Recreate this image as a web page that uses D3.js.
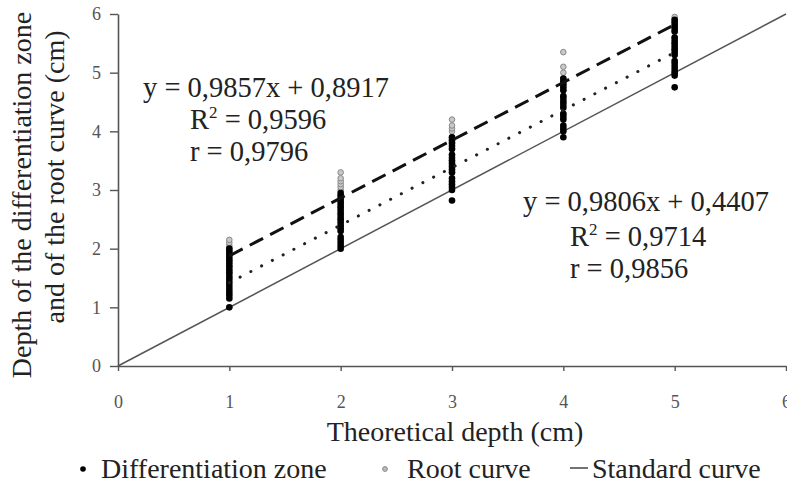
<!DOCTYPE html>
<html>
<head>
<meta charset="utf-8">
<script src="https://cdn.jsdelivr.net/npm/d3@7"></script>
<style>
  body { margin: 0; background: #fff; }
  text { font-family: "Liberation Serif", "DejaVu Serif", serif; }
</style>
</head>
<body>
<div id="chart"></div>
<script>
// dados
const theoretical = [1, 2, 3, 4, 5];

const diffZone = [
  [1.0, 1.15, 1.2, 1.25, 1.3, 1.35, 1.4, 1.45, 1.5, 1.55, 1.6, 1.65, 1.7, 1.75, 1.8, 1.85, 1.9, 1.95, 2.0],
  [2.0, 2.05, 2.1, 2.15, 2.2, 2.3, 2.35, 2.4, 2.45, 2.5, 2.55, 2.6, 2.65, 2.7, 2.75, 2.8, 2.85, 2.9, 2.95],
  [2.82, 3.0, 3.05, 3.1, 3.15, 3.2, 3.3, 3.35, 3.4, 3.45, 3.5, 3.55, 3.6, 3.7, 3.75, 3.8, 3.85, 3.9],
  [3.9, 4.0, 4.05, 4.1, 4.2, 4.25, 4.3, 4.4, 4.45, 4.5, 4.55, 4.6, 4.7, 4.75, 4.8, 4.85, 4.9],
  [4.75, 4.95, 5.0, 5.05, 5.1, 5.15, 5.2, 5.3, 5.35, 5.4, 5.45, 5.5, 5.55, 5.6, 5.7, 5.75, 5.8, 5.85, 5.9]
];

const rootCurve = [
  [1.5, 1.6, 1.7, 1.8, 1.9, 1.95, 2.0, 2.05, 2.1, 2.15],
  [2.3, 2.5, 2.6, 2.7, 2.8, 2.9, 3.0, 3.05, 3.1, 3.15, 3.2, 3.3],
  [3.3, 3.5, 3.6, 3.7, 3.8, 3.9, 4.0, 4.05, 4.1, 4.2],
  [4.3, 4.5, 4.6, 4.7, 4.8, 4.9, 5.0, 5.1, 5.35],
  [5.0, 5.2, 5.4, 5.5, 5.6, 5.7, 5.8, 5.85, 5.9, 5.95]
];

// regressões (inclinação, intercepto)
const rootFit = [0.9857, 0.8917];
const diffFit = [0.9806, 0.4407];
const standardFit = [1, 0];

const axisTicks = [0, 1, 2, 3, 4, 5, 6];

const rootText = ["y = 0,9857x + 0,8917", "0,9596", "r = 0,9796"];
const diffText = ["y = 0,9806x + 0,4407", "0,9714", "r = 0,9856"];

const legendItems = ["Differentiation zone", "Root curve", "Standard curve"];

// Configurações
let width = 787, height = 486;
let svg = d3.select('#chart').append('svg')
  .attr('width', width)
  .attr('height', height);

let x = d3.scaleLinear().domain([0, 6]).range([118, 786]);
let y = d3.scaleLinear().domain([0, 6]).range([366, 14]);

// Eixos
let axisY = svg.append('g')
  .attr('transform', `translate(${x(0)},0)`)
  .call(d3.axisLeft(y).tickValues(axisTicks).tickFormat(d3.format('d'))
    .tickSize(8).tickSizeOuter(0).tickPadding(9));

let axisX = svg.append('g')
  .attr('transform', `translate(0,${y(0)})`)
  .call(d3.axisBottom(x).tickValues(axisTicks).tickFormat(d3.format('d'))
    .tickSize(5).tickSizeOuter(0).tickPadding(24));

[axisX, axisY].forEach(g => {
  g.select('.domain').attr('stroke', '#555').attr('stroke-width', 1.6);
  g.selectAll('.tick line').attr('stroke', '#555').attr('stroke-width', 1.4);
  g.selectAll('.tick text').attr('fill', '#555')
    .style('font-size', '18px').style('font-family', '"Liberation Serif", serif');
});

// Linha padrão
let line = d3.line().x(d => x(d[0])).y(d => y(d[1]));
const fitPts = (fit, x0, x1) => [[x0, fit[0] * x0 + fit[1]], [x1, fit[0] * x1 + fit[1]]];

svg.append('path')
  .datum(fitPts(standardFit, 0, 6))
  .attr('d', line)
  .attr('fill', 'none')
  .attr('stroke', '#555')
  .attr('stroke-width', 1.5);

// Pontos da curva da raiz
rootCurve.forEach((vals, i) => {
  svg.append('g').selectAll('circle')
    .data(vals)
    .join('circle')
    .attr('cx', x(theoretical[i]))
    .attr('cy', d => y(d))
    .attr('r', 2.8)
    .attr('fill', '#c8c8c8')
    .attr('stroke', '#888')
    .attr('stroke-width', 1);
});

// Pontos da zona de diferenciação
diffZone.forEach((vals, i) => {
  svg.append('g').selectAll('circle')
    .data(vals)
    .join('circle')
    .attr('cx', x(theoretical[i]))
    .attr('cy', d => y(d))
    .attr('r', 3.3)
    .attr('fill', '#000');
});

// Retas de regressão
svg.append('path')
  .datum(fitPts(rootFit, 1, 5))
  .attr('d', line)
  .attr('fill', 'none')
  .attr('stroke', '#111')
  .attr('stroke-width', 3)
  .attr('stroke-dasharray', '15,8');

svg.append('path')
  .datum(fitPts(diffFit, 1, 5))
  .attr('d', line)
  .attr('fill', 'none')
  .attr('stroke', '#222')
  .attr('stroke-width', 3)
  .attr('stroke-linecap', 'round')
  .attr('stroke-dasharray', '0.1,12');

// Equações
function equation(lines, x0, x1, ys) {
  let g = svg.append('g').style('font-size', '28.5px').attr('fill', '#222');
  g.append('text').attr('x', x0).attr('y', ys[0]).text(lines[0]);
  let t = g.append('text').attr('x', x1).attr('y', ys[1]);
  t.append('tspan').text('R');
  t.append('tspan').attr('dy', -11).style('font-size', '17px').text('2');
  t.append('tspan').attr('dy', 11).text(' = ' + lines[1]);
  g.append('text').attr('x', x1).attr('y', ys[2]).text(lines[2]);
}
equation(rootText, 143, 190, [97, 129, 161]);
equation(diffText, 523, 570, [211, 246, 278]);

// Títulos dos eixos
svg.append('text')
  .attr('x', 455)
  .attr('y', 441)
  .attr('text-anchor', 'middle')
  .style('font-size', '28px')
  .attr('fill', '#222')
  .text('Theoretical depth (cm)');

let yTitle = svg.append('g')
  .style('font-size', '28px')
  .attr('fill', '#222');
yTitle.append('text')
  .attr('transform', 'translate(31,195) rotate(-90)')
  .attr('text-anchor', 'middle')
  .text('Depth of the differentiation zone');
yTitle.append('text')
  .attr('transform', 'translate(64,177) rotate(-90)')
  .attr('text-anchor', 'middle')
  .text('and of the root curve (cm)');

// Legenda
let leg = svg.append('g').style('font-size', '28px').attr('fill', '#222');
leg.append('circle').attr('cx', 83).attr('cy', 469).attr('r', 2.8).attr('fill', '#000');
leg.append('text').attr('x', 101).attr('y', 478).text(legendItems[0]);
leg.append('circle').attr('cx', 385).attr('cy', 469).attr('r', 2.4).attr('fill', '#bbb').attr('stroke', '#888');
leg.append('text').attr('x', 407).attr('y', 478).text(legendItems[1]);
leg.append('line').attr('x1', 570).attr('x2', 588).attr('y1', 468).attr('y2', 468)
  .attr('stroke', '#444').attr('stroke-width', 1.5);
leg.append('text').attr('x', 592).attr('y', 478).text(legendItems[2]);
</script>
</body>
</html>
